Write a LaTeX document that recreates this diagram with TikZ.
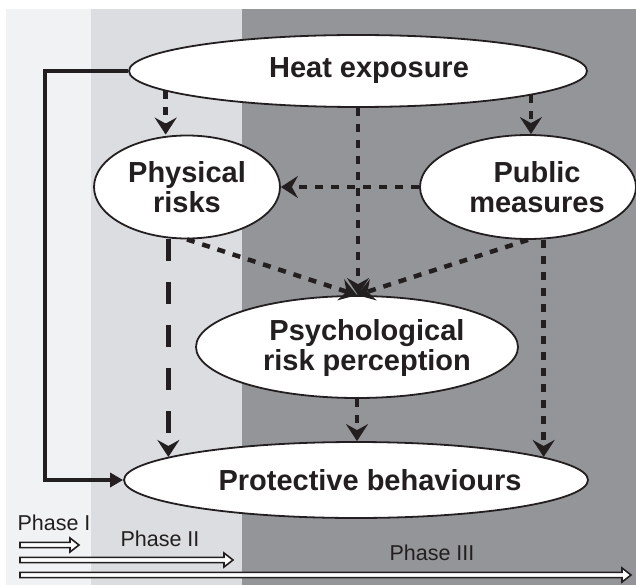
\documentclass[tikz,border=0pt]{standalone}
\usepackage{fontspec}
\setmainfont{Liberation Sans}
\usetikzlibrary{shapes.geometric}
\usetikzlibrary{arrows.meta}
\definecolor{ink}{HTML}{231F20}
\definecolor{bandone}{HTML}{F1F2F4}
\definecolor{bandtwo}{HTML}{DCDDE0}
\definecolor{bandthree}{HTML}{949599}
\tikzset{
    bubble/.style={ellipse,draw=ink,fill=white,line width=1.8pt,inner sep=0pt},
    caption/.style={font=\bfseries\fontsize{29}{30}\selectfont,text=ink,align=center},
    dotted arrow/.style={draw=ink,line width=4.5pt,dash pattern=on 8pt off 8pt,
        -{Stealth[length=17pt,width=22pt,inset=6pt]}},
    long arrow/.style={draw=ink,line width=4.5pt,dash pattern=on 22pt off 21pt,
        -{Stealth[length=17pt,width=22pt,inset=6pt]}},
    loop arrow/.style={draw=ink,line width=4pt,-{Triangle[length=13pt,width=14pt]}},
    phase/.style={draw=ink,fill=white,line width=1.6pt,line join=miter}
}
\newcommand{\phasearrow}[2]{% y, tip x
    \draw[phase] (20,#1-2.6) -- (#2-9,#1-2.6) -- (#2-9,#1-7) -- (#2,#1)
        -- (#2-9,#1+7) -- (#2-9,#1+2.6) -- (20,#1+2.6) -- cycle;}
\begin{document}
\begin{tikzpicture}[x=1pt,y=-1pt]
            \useasboundingbox (0,0) rectangle (636,585);
            % phase bands
            \fill[bandone] (6,9) rectangle (91,585);
            \fill[bandtwo] (91,9) rectangle (242,585);
            \fill[bandthree] (242,9) rectangle (636,585);
            % ellipses
            \node[bubble,minimum width=458,minimum height=72,
                label={[caption,xshift=11pt]center:Heat exposure}] (heat) at (358,71) {};
            \node[bubble,minimum width=186,minimum height=103,
                label={[caption]center:Physical\\risks}] (phys) at (187,187) {};
            \node[bubble,minimum width=216,minimum height=104,
                label={[caption,xshift=9pt]center:Public\\measures}] (pub) at (528,187) {};
            \node[bubble,minimum width=322,minimum height=102,
                label={[caption,xshift=10pt,yshift=-1pt]center:Psychological\\risk perception}] (psych) at (357,347) {};
            \node[bubble,minimum width=464,minimum height=76,
                label={[caption,xshift=14pt]center:Protective behaviours}] (prot) at (356,480) {};
            % connectors
            \draw[loop arrow] (heat.west) -- ++(-83,0) |- (prot.west);
            \draw[dotted arrow] (heat.186) -- (heat.186 |- phys.north);
            \draw[dotted arrow] (heat.352) -- (heat.352 |- pub.north);
            \draw[dotted arrow] (heat.south) -- (heat.south |- psych.north);
            \draw[dotted arrow] (pub.west) -- (phys.east);
            \draw[dotted arrow] (phys.south) -- (psych.north);
            \draw[dotted arrow] (pub.south) -- (psych.north);
            \draw[long arrow] (phys.south -| prot.173) -- (prot.173);
            \draw[dotted arrow] (psych.south) -- (psych.south |- prot.north);
            \draw[dotted arrow] (pub.south -| prot.7) -- (prot.7);
            % phases
            \node[font=\fontsize{21.5}{22}\selectfont,text=ink] (ph1) at (54,523) {Phase I};
            \node[font=\fontsize{21.5}{22}\selectfont,text=ink] (ph2) at (160,539) {Phase II};
            \node[font=\fontsize{21.5}{22}\selectfont,text=ink] (ph3) at (432,553) {Phase III};
            \foreach \y/\xe in {545/79,560/233,575/631}
                \phasearrow{\y}{\xe};
        \end{tikzpicture}
\end{document}
